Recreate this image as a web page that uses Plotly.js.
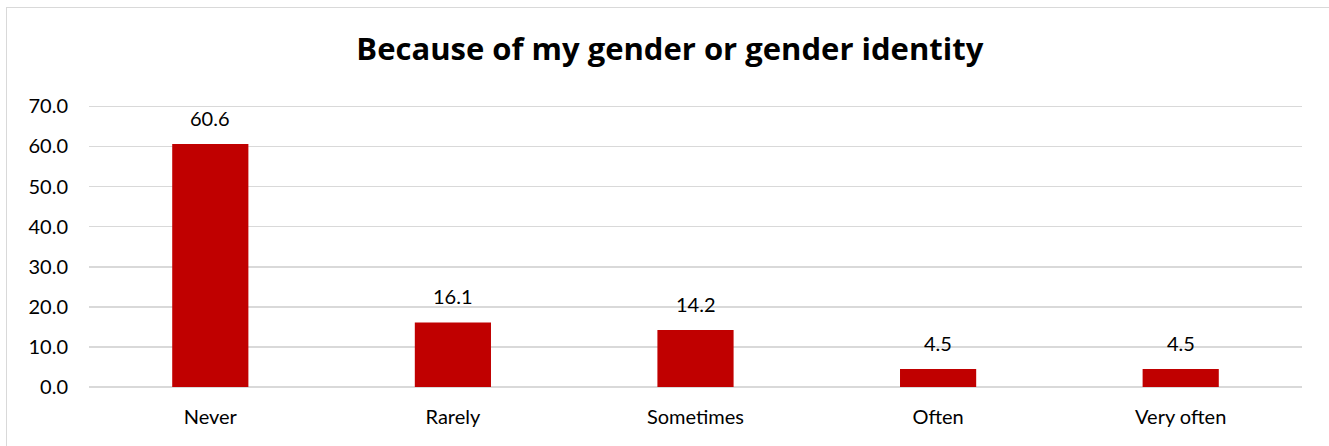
<!DOCTYPE html>
<html>
<head>
<meta charset="utf-8">
<script src="https://cdn.plot.ly/plotly-3.0.1.min.js"></script>
<style>
  html, body { margin: 0; padding: 0; background: #fff; }
  #chart { width: 1329px; height: 446px; position: absolute; left: 0; top: 0; }
  #frame { position: absolute; left: 6px; top: 7px; width: 1400px; height: 500px;
           border-top: 1px solid #d9d9d9; border-left: 1px solid #d9d9d9;
           pointer-events: none; z-index: 5; }
</style>
</head>
<body>
<div id="chart"></div>
<div id="frame"></div>
<script>
const categories = ["Never", "Rarely", "Sometimes", "Often", "Very often"];
const values = [60.6, 16.1, 14.2, 4.5, 4.5];
const yTicks = [0, 10, 20, 30, 40, 50, 60, 70];
const yTickLabels = yTicks.map(v => v.toFixed(1));
const chartTitle = "Because of my gender or gender identity";

const FONT = "Lato, 'Open Sans', sans-serif";
const TITLE_FONT = "'Open Sans', Lato, sans-serif";

const trace = {
  type: "bar",
  x: categories,
  y: values,
  marker: { color: "#c00000" },
  hoverinfo: "skip"
};

const annotations = categories.map((c, i) => ({
  x: c, y: values[i], xref: "x", yref: "y",
  text: values[i].toFixed(1),
  showarrow: false, yanchor: "bottom", yshift: 12,
  font: { family: FONT, size: 20, color: "#000" }
}));

const layout = {
  width: 1329, height: 446,
  margin: { l: 89, r: 27, t: 104, b: 59, pad: 0 },
  paper_bgcolor: "rgba(0,0,0,0)",
  plot_bgcolor: "rgba(0,0,0,0)",
  showlegend: false,
  bargap: 0.686,
  title: {
    text: "<b>" + chartTitle + "</b>",
    x: 0.504, xref: "container", xanchor: "center",
    y: 1 - 49 / 446, yref: "container", yanchor: "middle",
    font: { family: TITLE_FONT, size: 31, color: "#000" }
  },
  xaxis: {
    type: "category",
    showgrid: false, zeroline: false, showline: false,
    ticks: "", ticklabelstandoff: 16,
    tickfont: { family: FONT, size: 20, color: "#000" }
  },
  yaxis: {
    range: [0, 70.6],
    tickvals: yTicks, ticktext: yTickLabels,
    showgrid: true, gridcolor: "#d9d9d9", gridwidth: 1.5,
    zeroline: true, zerolinecolor: "#d9d9d9", zerolinewidth: 1.5,
    showline: false, ticks: "", ticklabelstandoff: 20,
    tickfont: { family: FONT, size: 20, color: "#000" }
  },
  annotations: annotations
};

Plotly.newPlot("chart", [trace], layout, { displayModeBar: false, staticPlot: true });
</script>
</body>
</html>
